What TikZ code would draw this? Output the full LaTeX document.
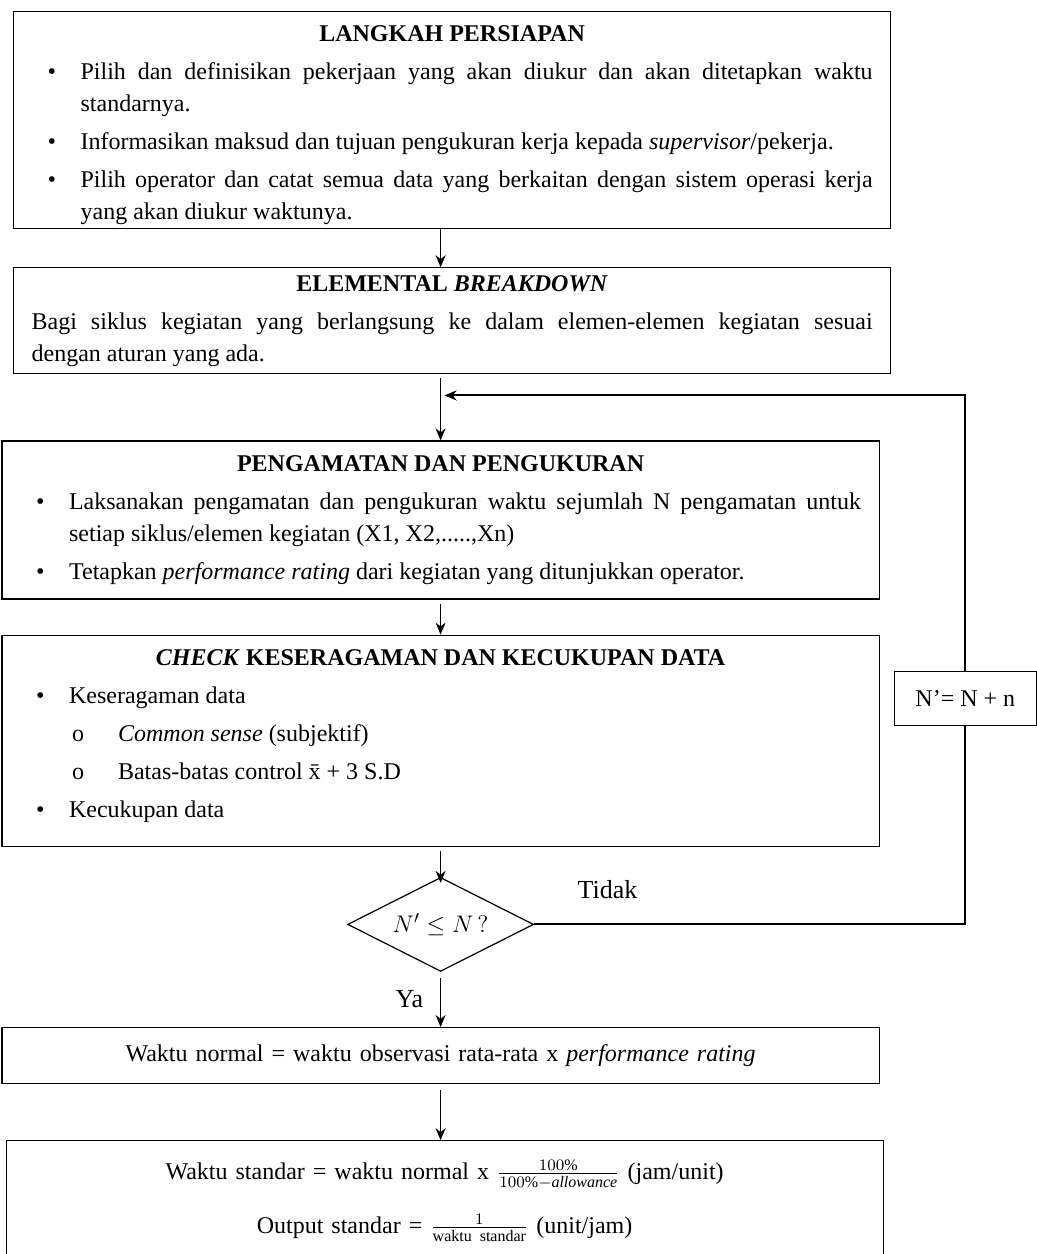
\documentclass[tikz,border=0pt]{standalone}
\usepackage{amsmath}
\usepackage{fontspec}
\setmainfont{Liberation Serif}
\usetikzlibrary{positioning,shapes.geometric,arrows.meta}

\newcommand{\judul}[1]{{\centering\bfseries #1\par}}
\newcommand{\butir}[1]{\par\hangindent=24.5pt\hangafter=1\noindent\makebox[24.5pt][l]{\hspace{8pt}\textbullet}#1\par}
\newcommand{\subbutir}[1]{\par\hangindent=49pt\hangafter=1\noindent\makebox[49pt][l]{\hspace{26pt}o}#1\par}

\begin{document}
\begin{tikzpicture}[x=0.5pt,y=-0.5pt,->,>={Stealth[length=6pt,width=5pt]},line width=0.7pt,
	font=\fontsize{12}{16}\selectfont,
	kotak/.style={draw,line width=0.6pt,text width=420.5pt,inner xsep=9pt,inner ysep=0pt,align=justify,
		execute at begin node={\setlength{\parskip}{3pt}\hyphenpenalty=10000\exhyphenpenalty=10000\tolerance=9999}},
	keputusan/.style={diamond,aspect=2,draw,line width=0.6pt,inner sep=0pt,minimum width=93pt,minimum height=47pt,font=\fontsize{13}{15}\selectfont},
	label/.style={font=\fontsize{13}{15}\selectfont}]
	\useasboundingbox (0,0) rectangle (1037,1254);

	\node[kotak,anchor=north west,minimum height=108.5pt] (siap) at (13,11) {%
		\judul{\rule{0pt}{13pt}LANGKAH PERSIAPAN}
		\butir{Pilih dan definisikan pekerjaan yang akan diukur dan akan ditetapkan waktu standarnya.}
		\butir{Informasikan maksud dan tujuan pengukuran kerja kepada \textit{supervisor}/pekerja.}
		\butir{Pilih operator dan catat semua data yang berkaitan dengan sistem operasi kerja\linebreak yang akan diukur waktunya.}};
	\node[kotak,minimum height=53pt] (urai) [below=19pt of siap] {%
		\judul{ELEMENTAL \textit{BREAKDOWN}}
		Bagi siklus kegiatan yang berlangsung ke dalam elemen-elemen kegiatan sesuai\linebreak dengan aturan yang ada.};
	\node[kotak,minimum height=79pt] (amat) [below=33pt of urai,xshift=-5.75pt] {%
		\judul{PENGAMATAN DAN PENGUKURAN}
		\butir{Laksanakan pengamatan dan pengukuran waktu sejumlah N pengamatan untuk setiap siklus/elemen kegiatan (X1, X2,.....,Xn)}
		\butir{Tetapkan \textit{performance rating} dari kegiatan yang ditunjukkan operator.}};
	\node[kotak,minimum height=105.5pt] (cek) [below=17.5pt of amat] {%
		\judul{\textit{CHECK} KESERAGAMAN DAN KECUKUPAN DATA}
		\butir{Keseragaman data}
		\subbutir{\textit{Common sense} (subjektif)}
		\subbutir{Batas-batas control \={x} + 3 S.D}
		\butir{Kecukupan data\rule[-7.5pt]{0pt}{1pt}}};
	\node[keputusan] (dec) [below=15pt of cek] {$N' \leq N\,?$};
	\node[kotak,align=center,minimum height=28pt] (normal) [below=27.5pt of dec] {Waktu normal = waktu observasi rata-rata x \textit{performance rating}};
	\node[kotak,align=center,minimum height=60pt] (standar) [below=28pt of normal,xshift=2pt] {%
		Waktu standar = waktu normal x $\frac{100\%}{100\%-\mathit{allowance}}$ (jam/unit)\\[11pt]
		Output standar = $\frac{1}{\text{waktu standar}}$ (unit/jam)};
	\node[draw,line width=0.6pt,minimum width=71pt,minimum height=27pt] (upd) [right=7pt of cek,yshift=21.25pt] {N’= N + n};

	\path (urai.south -| dec) ++(0,-10.5pt) coordinate (join);

	% alur utama
	\draw (siap.south -| dec) -- (urai.north -| dec);
	\draw[shorten <=2pt] (urai.south -| dec) -- (amat.north -| dec);
	\draw[shorten <=2pt] (amat.south -| dec) -- (cek.north -| dec);
	\draw[shorten <=2pt,shorten >=-3pt] (cek.south -| dec) -- (dec.north);
	\draw[shorten <=3pt] (dec.south) -- node[label,left=5pt]{Ya} (normal.north -| dec);
	\draw[shorten <=3pt] (normal.south -| dec) -- (standar.north -| dec);

	% ulang
	\draw[-,line width=1pt] (dec.east) -- node[label,pos=0.17,above=9pt]{Tidak} (dec.east -| upd.south) -- (upd.south);
	\draw[line width=1pt,shorten >=2pt] (upd.north) |- (join);
\end{tikzpicture}
\end{document}
